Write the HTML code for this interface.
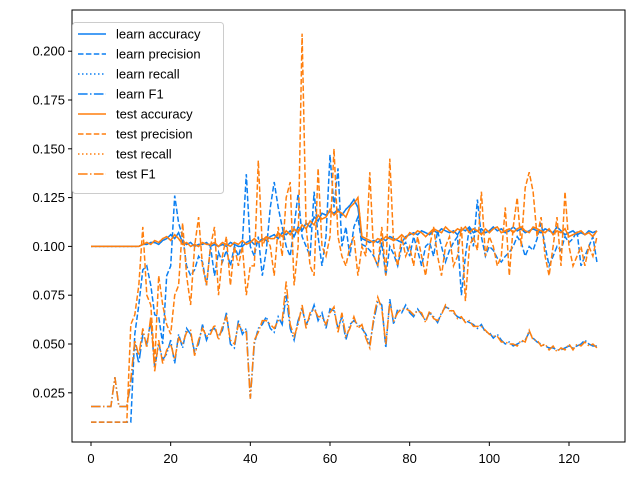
<!DOCTYPE html>
<html><head><meta charset="utf-8"><style>
body{margin:0;background:#fff;}
svg text{font-family:"Liberation Sans","DejaVu Sans",sans-serif;}
</style></head><body>
<svg id="chart" width="640" height="480" xmlns="http://www.w3.org/2000/svg">
<rect x="0" y="0" width="640" height="480" fill="#fff"/>
<g id="plot"></g>
<rect x="72" y="10" width="553" height="432" fill="none" stroke="#000" stroke-width="1"/>
<g id="axes"></g>
<g id="legend"></g>
</svg>
<script>
const epochs = Array.from({length:128},(_,i)=>i);
const xTicks = [0,20,40,60,80,100,120];
const yTicks = [0.025,0.050,0.075,0.100,0.125,0.150,0.175,0.200];
const learnAcc = [.100,.100,.100,.100,.100,.100,.100,.100,.100,.100,.100,.100,.100,
.101,.101,.102,.102,.101,.103,.104,.106,
.104,.107,.102,.101,.102,.100,.101,.101,.102,.100,
.101,.100,.101,.100,.102,.101,.100,.100,.102,.103,.101,.102,.104,.103,.105,
.106,.104,.107,.106,.108,.105,.110,.108,.112,.110,.115,.113,.117,.116,.118,
.117,.119,.116,.119,.121,.124,.120,.104,.103,.102,
.103,.102,.104,.103,.105,.104,.103,.102,.105,.106,
.107,.106,.108,.107,.106,.108,.107,.109,.108,.107,
.108,.106,.109,.108,.110,.107,.108,.109,.107,.108,
.110,.108,.109,.107,.108,.110,.108,.109,.107,.108,
.109,.108,.107,.109,.108,.107,.110,.108,.106,.107,
.108,.106,.107,.106,.108,.107,.108];
const testAcc = [.100,.100,.100,.100,.100,.100,.100,.100,.100,.100,.100,.100,.100,
.101,.102,.101,.103,.102,.104,.105,.103,
.106,.104,.101,.102,.100,.101,.100,.102,.101,.101,
.102,.100,.102,.101,.100,.102,.101,.103,.101,.102,.104,.102,.103,.105,.104,
.104,.107,.105,.108,.106,.109,.107,.111,.109,.113,.111,.116,.114,.115,.119,
.116,.118,.117,.115,.120,.122,.125,.105,.104,.103,
.102,.104,.103,.105,.104,.103,.104,.106,.104,.107,
.106,.108,.107,.105,.107,.109,.108,.107,.110,.108,
.107,.109,.108,.110,.107,.109,.108,.106,.109,.107,
.109,.110,.107,.108,.109,.107,.109,.110,.108,.107,
.110,.109,.108,.107,.109,.106,.108,.107,.109,.105,
.106,.107,.108,.106,.107,.105,.108];
const learnRecall = learnAcc.slice();
const testRecall = testAcc.slice();
const learnPrec = [.010,.010,.010,.010,.010,.010,.010,.010,.010,.010,.010,
.055,.070,.088,.090,.080,.065,.064,.050,.085,.090,
.126,.112,.105,.090,.085,.088,.095,.092,.080,.100,
.085,.097,.092,.098,.090,.100,.095,.102,.137,.100,.095,.105,.085,.098,.120,
.133,.120,.110,.100,.095,.110,.127,.105,.100,.095,.128,.105,.090,.105,.147,
.120,.140,.100,.110,.095,.110,.115,.101,.100,.098,
.095,.090,.102,.085,.100,.096,.090,.100,.102,.095,
.105,.098,.090,.100,.102,.095,.108,.100,.092,.098,
.102,.105,.075,.095,.110,.100,.124,.105,.095,.100,
.098,.094,.092,.095,.097,.100,.105,.102,.095,.100,
.098,.104,.112,.100,.090,.095,.100,.098,.105,.102,
.104,.108,.090,.095,.100,.105,.092];
const testPrec = [.010,.010,.010,.010,.010,.010,.010,.010,.010,.010,
.060,.065,.080,.110,.075,.070,.040,.085,.070,.060,.055,
.075,.080,.112,.085,.070,.100,.115,.090,.080,.100,
.110,.075,.095,.105,.080,.100,.090,.100,.075,.090,.090,.144,.100,.105,.100,
.085,.110,.095,.125,.133,.080,.100,.209,.110,.090,.085,.140,.100,.095,.105,
.150,.105,.095,.090,.100,.105,.085,.100,.095,.138,
.095,.090,.110,.085,.145,.100,.090,.105,.095,.100,
.090,.105,.095,.085,.100,.110,.095,.085,.100,.105,
.090,.095,.110,.072,.100,.105,.098,.128,.095,.105,
.100,.090,.095,.120,.085,.110,.125,.100,.130,.138,
.128,.105,.115,.095,.085,.100,.115,.090,.128,.100,
.090,.095,.100,.090,.100,.095,.105];
const learnF1 = [.018,.018,.018,.018,.018,.018,.033,.018,.018,.018,.030,
.050,.040,.055,.050,.062,.038,.050,.042,.045,.052,
.040,.055,.048,.058,.055,.046,.050,.060,.052,.057,
.058,.054,.057,.066,.050,.048,.062,.055,.058,.022,.050,.058,.060,.064,.058,
.056,.064,.060,.075,.058,.052,.062,.068,.060,.064,.070,.062,.066,.058,.068,
.067,.058,.064,.052,.060,.062,.060,.058,.055,.050,
.062,.072,.070,.048,.073,.060,.068,.066,.070,.066,
.064,.068,.065,.062,.066,.064,.061,.066,.069,.068,
.066,.064,.063,.062,.061,.060,.058,.060,.056,.056,
.053,.055,.052,.050,.051,.049,.050,.051,.052,.056,
.053,.051,.050,.049,.048,.048,.047,.047,.048,.049,
.048,.049,.050,.052,.050,.049,.049];
const testF1 = [.018,.018,.018,.018,.018,.018,.033,.018,.018,.018,.032,
.052,.044,.058,.048,.064,.036,.052,.040,.047,.050,
.042,.053,.050,.056,.057,.044,.052,.058,.054,.055,
.060,.052,.059,.064,.052,.050,.060,.057,.056,.022,.052,.056,.062,.062,.060,
.058,.062,.062,.082,.060,.054,.060,.070,.058,.066,.068,.064,.064,.060,.066,
.069,.056,.066,.054,.058,.064,.058,.060,.053,.048,
.064,.074,.068,.050,.071,.062,.066,.068,.068,.067,
.065,.067,.066,.061,.067,.063,.062,.065,.070,.067,
.067,.063,.064,.061,.062,.059,.059,.059,.057,.055,
.054,.054,.051,.051,.050,.050,.049,.052,.051,.057,
.052,.052,.049,.050,.047,.049,.046,.048,.047,.050,
.047,.050,.049,.051,.049,.050,.048];

const X0=72,X1=625,Y0=10,Y1=442;
function xs(v){return 91 + v*(569-91)/120;}
function ys(v){return 344 - (v-0.05)*(344-51.2)/0.15;}
const NS="http://www.w3.org/2000/svg";
const BLUE="#0b7ff2", ORANGE="#ff7f0e";
const DASH={solid:"",dashed:"5.5,2.4",dotted:"1.5,2.5",dashdot:"9.6,2.4,1.5,2.4"};
const series=[
 {n:"learn accuracy",d:learnAcc,c:BLUE,s:"solid",id:"learn-accuracy"},
 {n:"learn precision",d:learnPrec,c:BLUE,s:"dashed",id:"learn-precision"},
 {n:"learn recall",d:learnRecall,c:BLUE,s:"dotted",id:"learn-recall"},
 {n:"learn F1",d:learnF1,c:BLUE,s:"dashdot",id:"learn-f1"},
 {n:"test accuracy",d:testAcc,c:ORANGE,s:"solid",id:"test-accuracy"},
 {n:"test precision",d:testPrec,c:ORANGE,s:"dashed",id:"test-precision"},
 {n:"test recall",d:testRecall,c:ORANGE,s:"dotted",id:"test-recall"},
 {n:"test F1",d:testF1,c:ORANGE,s:"dashdot",id:"test-f1"}];
const plot=document.getElementById('plot');
series.forEach(s=>{
 const p=document.createElementNS(NS,'polyline');
 
 
 p.setAttribute('points', s.d.map((v,i)=>xs(epochs[i]).toFixed(1)+','+ys(v).toFixed(1)).join(' '));
 p.setAttribute('fill','none');p.setAttribute('stroke',s.c);p.setAttribute('stroke-width','1.5');
 if(DASH[s.s])p.setAttribute('stroke-dasharray',DASH[s.s]);
 plot.appendChild(p);
});
const axes=document.getElementById('axes');
xTicks.forEach(t=>{
 const x=xs(t);
 const l=document.createElementNS(NS,'line');
 
 
 l.setAttribute('x1',x);l.setAttribute('x2',x);l.setAttribute('y1',Y1);l.setAttribute('y2',Y1+4);l.setAttribute('stroke','#000');
 axes.appendChild(l);
 const tx=document.createElementNS(NS,'text');
 
 
 tx.setAttribute('x',x);tx.setAttribute('y',463);tx.setAttribute('text-anchor','middle');tx.setAttribute('font-size','13');
 tx.textContent=t;axes.appendChild(tx);
});
yTicks.forEach(t=>{
 const y=ys(t);
 const l=document.createElementNS(NS,'line');
 
 
 l.setAttribute('x1',X0-4);l.setAttribute('x2',X0);l.setAttribute('y1',y);l.setAttribute('y2',y);l.setAttribute('stroke','#000');
 axes.appendChild(l);
 const tx=document.createElementNS(NS,'text');
 
 
 tx.setAttribute('x',X0-7);tx.setAttribute('y',y+4.5);tx.setAttribute('text-anchor','end');tx.setAttribute('font-size','13');
 tx.textContent=t.toFixed(3);axes.appendChild(tx);
});
const lg=document.getElementById('legend');
const box=document.createElementNS(NS,'rect');


box.setAttribute('x',72.5);box.setAttribute('y',22.5);box.setAttribute('width',151);box.setAttribute('height',171);box.setAttribute('rx',3);
box.setAttribute('fill','#fff');box.setAttribute('fill-opacity','0.8');box.setAttribute('stroke','#ccc');
lg.appendChild(box);
series.forEach((s,i)=>{
 const y=34+i*20;
 const g=document.createElementNS(NS,'g');
 
 
 const l=document.createElementNS(NS,'line');
 l.setAttribute('x1',78);l.setAttribute('x2',106);l.setAttribute('y1',y);l.setAttribute('y2',y);
 l.setAttribute('stroke',s.c);l.setAttribute('stroke-width','1.5');
 if(DASH[s.s])l.setAttribute('stroke-dasharray',DASH[s.s]);
 g.appendChild(l);
 const t=document.createElementNS(NS,'text');
 t.setAttribute('x',116);t.setAttribute('y',y+4.5);t.setAttribute('font-size','13');
 t.textContent=s.n;g.appendChild(t);
 lg.appendChild(g);
});
</script>
</body></html>
